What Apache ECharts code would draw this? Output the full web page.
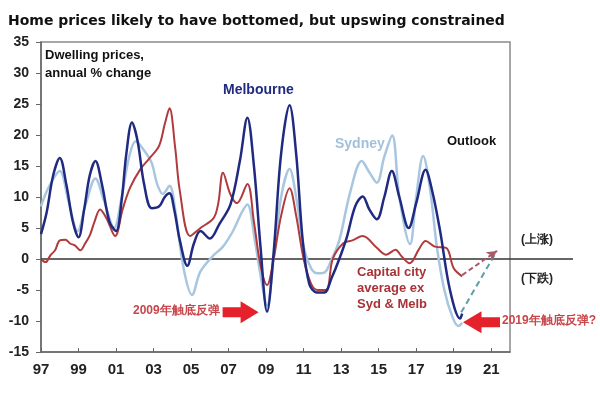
<!DOCTYPE html>
<html>
<head>
<meta charset="utf-8">
<script src="https://cdn.jsdelivr.net/npm/echarts@6/dist/echarts.min.js"></script>
<style>html,body{margin:0;padding:0;background:#fff}#c{width:600px;height:400px}</style>
</head>
<body>
<div id="c"></div>
<script>
// ---- data (year, annual % change) ----
const melbourne = [[1997.0,4.0],[1997.3,7.5],[1997.65,13.5],[1998.0,16.3],[1998.35,12],[1998.7,6],[1999.0,3.5],[1999.3,8],[1999.6,13.5],[1999.9,15.8],[2000.25,12],[2000.65,6],[2001.0,4.5],[2001.3,9.5],[2001.55,17],[2001.85,22],[2002.15,19],[2002.5,12],[2002.9,8.2],[2003.3,8.5],[2003.6,10],[2003.85,10.6],[2004.1,8],[2004.4,3],[2004.8,-1.1],[2005.15,2.5],[2005.5,4.5],[2006.0,3.3],[2006.5,5.6],[2007.1,8.8],[2007.6,15.8],[2008.0,22.8],[2008.35,15],[2008.7,2],[2009.05,-8.5],[2009.4,1],[2009.8,17],[2010.25,24.8],[2010.6,17],[2010.95,3],[2011.3,-4],[2011.7,-5.4],[2012.1,-5.4],[2012.5,-3],[2012.9,0],[2013.3,3.5],[2013.75,8.5],[2014.15,10.1],[2014.5,8],[2014.9,6.4],[2015.3,10],[2015.7,14.2],[2016.1,10],[2016.6,5],[2017.0,9],[2017.5,14.4],[2017.85,11],[2018.27,4.6],[2018.8,-5],[2019.34,-9.6],[2019.45,-8.8]];
const sydney = [[1997.0,8.5],[1997.4,11.5],[1998.0,14.2],[1998.45,9.5],[1998.95,4.5],[1999.4,9],[1999.9,13],[2000.35,9.5],[2000.9,5],[2001.3,10],[2001.7,16.5],[2002.05,19],[2002.5,17.5],[2002.9,15.5],[2003.2,12],[2003.5,10.5],[2003.85,11.8],[2004.15,8],[2004.6,-1.5],[2005.05,-5.8],[2005.5,-2],[2006.2,0.6],[2006.7,2],[2007.25,4.6],[2007.7,7.5],[2008.0,8.8],[2008.4,3],[2008.75,-3.5],[2009.05,-7.5],[2009.4,0],[2009.8,10],[2010.25,14.5],[2010.6,10],[2011.0,2],[2011.4,-1.5],[2011.75,-2.3],[2012.1,-2.2],[2012.5,0],[2012.9,3],[2013.5,11],[2014.1,15.8],[2014.5,14],[2014.9,12.3],[2015.3,16.5],[2015.72,19.9],[2016.1,10],[2016.67,2.4],[2017.0,10],[2017.37,16.6],[2017.75,11],[2018.1,2],[2018.5,-5],[2018.95,-9.5],[2019.25,-10.8],[2019.45,-10.3]];
const capitalExSydMelb = [[1997.0,-0.1],[1997.25,-0.5],[1997.5,0.6],[1997.75,1.4],[1998.0,3.0],[1998.3,3.1],[1998.55,2.5],[1998.8,2.2],[1999.1,1.4],[1999.35,2.5],[1999.6,3.8],[1999.85,6],[2000.15,8],[2000.5,6.5],[2000.95,3.7],[2001.35,8],[2001.75,11.5],[2002.3,14.5],[2002.8,16.3],[2003.3,18.3],[2003.6,21.8],[2003.85,24.3],[2004.15,18],[2004.4,11],[2004.95,3.7],[2005.5,5],[2006.2,6.6],[2006.45,9],[2006.7,13.9],[2007.1,10.4],[2007.45,9],[2008.0,12.1],[2008.35,6],[2008.7,-1],[2009.05,-4.2],[2009.4,0],[2009.8,7],[2010.25,11.4],[2010.6,7],[2011.0,0],[2011.4,-4],[2011.75,-5],[2012.2,-5],[2012.55,0],[2013.1,2.5],[2013.6,3],[2014.15,3.7],[2014.9,1.8],[2015.4,0.7],[2015.9,1.5],[2016.2,0.5],[2016.65,-0.7],[2017.15,1.6],[2017.5,2.9],[2018.0,2],[2018.6,1.8],[2019.0,-1.5],[2019.45,-2.8]];
const outlookTarget = [2021.3, 1.3];
const melbOutlookStart = [2019.4, -8.6];
const capOutlookStart = [2019.45, -2.6];
const xTicks = [1997,1999,2001,2003,2005,2007,2009,2011,2013,2015,2017,2019,2021];
const yMin = -15, yMax = 35, yStep = 5;
const arrow2009 = [2007.64, -8.6];
const arrow2019 = [2020.48, -10.2];

const FONT = 'Liberation Sans, Arial, sans-serif';
const chart = echarts.init(document.getElementById('c'), null, {renderer: 'canvas'});
const arrowPath = 'path://M0,6 L18,6 L18,0 L36,11 L18,22 L18,16 L0,16 Z';

const option = {
  animation: false,
  backgroundColor: '#fff',
  grid: {left: 41, right: 90, top: 42, bottom: 48, show: true, borderColor: '#8a8a8a', borderWidth: 1.5},
  xAxis: {
    type: 'value', min: 1997, max: 2022,
    axisLine: {show: true, onZero: false, lineStyle: {color: '#666', width: 1.5}},
    axisTick: {show: true, inside: true, length: 4, customValues: xTicks, lineStyle: {color: '#666'}},
    axisLabel: {show: true, customValues: xTicks, margin: 10, color: '#222', fontFamily: FONT, fontWeight: 'bold', fontSize: 15,
      formatter: v => String(v).slice(2)},
    splitLine: {show: false}
  },
  yAxis: {
    type: 'value', min: yMin, max: yMax, interval: yStep,
    axisLine: {show: true, onZero: false, lineStyle: {color: '#666', width: 1.5}},
    axisTick: {show: true, inside: false, length: 5, lineStyle: {color: '#666'}},
    axisLabel: {margin: 12, color: '#222', fontFamily: FONT, fontWeight: 'bold', fontSize: 14},
    splitLine: {show: false}
  },
  series: [
    {type: 'line', name: 'Sydney', data: sydney, smooth: 0.35, symbol: 'none', z: 2,
      lineStyle: {color: '#a8c6e0', width: 2.5}},
    {type: 'line', name: 'Capital', data: capitalExSydMelb, smooth: 0.35, symbol: 'none', z: 3,
      lineStyle: {color: '#b03a3c', width: 2}},
    {type: 'line', name: 'Melbourne', data: melbourne, smooth: 0.35, symbol: 'none', z: 4,
      lineStyle: {color: '#1f2a80', width: 2.5},
      markLine: {silent: true, animation: false, symbol: ['none', 'arrow'], symbolSize: [8, 10], label: {show: false},
        data: [
          [{coord: melbOutlookStart, lineStyle: {color: '#5e9ea6', type: [6, 4], width: 2}, symbol: 'none'}, {coord: outlookTarget, symbol: 'none'}],
          [{coord: capOutlookStart, lineStyle: {color: '#a85a66', type: [5, 3], width: 2}}, {coord: outlookTarget}]
        ]},
      markPoint: {silent: true, animation: false, label: {show: false},
        data: [
          {coord: arrow2009, symbol: arrowPath, symbolSize: [36, 22], itemStyle: {color: '#e5212b'}},
          {coord: arrow2019, symbol: arrowPath, symbolSize: [37, 22], symbolRotate: 180, itemStyle: {color: '#e5212b'}}
        ]}
    }
  ]
};
chart.setOption(option);

const zeroY = chart.convertToPixel({yAxisIndex: 0}, 0);
const txt = (x, y, text, size, color, extra) => Object.assign({type: 'text', left: x, top: y, silent: true,
  style: {text: text, fill: color, font: 'bold ' + size + 'px ' + FONT}}, extra || {});
chart.setOption({
  graphic: [
    {type: 'line', silent: true, shape: {x1: 41, y1: zeroY, x2: 573, y2: zeroY}, style: {stroke: '#333', lineWidth: 1.5}, z: 1},
    {type: 'text', left: 8, top: 14, silent: true,
      style: {text: 'Home prices likely to have bottomed, but upswing constrained', fill: '#111', font: 'bold 14px "DejaVu Sans", Verdana, sans-serif'}},
    txt(45, 46, 'Dwelling prices,\nannual % change', 13, '#111', {style: {text: 'Dwelling prices,\nannual % change', fill: '#111', font: 'bold 13px ' + FONT, lineHeight: 18}}),
    txt(223, 83, 'Melbourne', 14, '#1f2a80'),
    txt(335, 137, 'Sydney', 14, '#a3c0da'),
    txt(447, 135, 'Outlook', 13, '#111'),
    txt(357, 264, 'Capital city\naverage ex\nSyd & Melb', 13, '#a83236', {style: {text: 'Capital city\naverage ex\nSyd & Melb', fill: '#a83236', font: 'bold 13px ' + FONT, lineHeight: 16}}),
    txt(521, 234, '(上涨)', 12, '#222'),
    txt(521, 273, '(下跌)', 12, '#222'),
    txt(133, 305, '2009年触底反弹', 12, '#c8454a'),
    txt(502, 315, '2019年触底反弹?', 12, '#c8454a')
  ]
});
</script>
</body>
</html>
